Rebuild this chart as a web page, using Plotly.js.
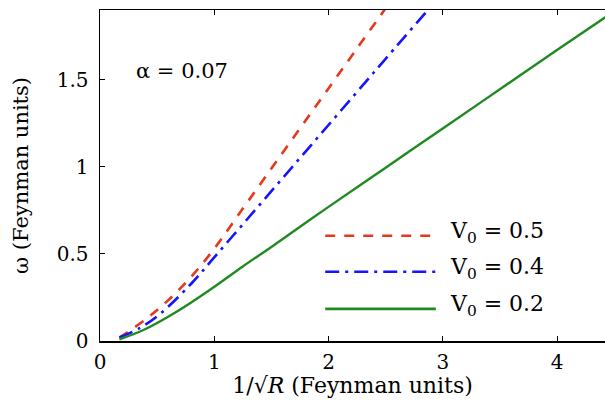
<!DOCTYPE html>
<html>
<head>
<meta charset="utf-8">
<script src="https://cdn.plot.ly/plotly-3.0.1.min.js"></script>
<style>html,body{margin:0;padding:0;background:#fff;}#chart{width:605px;height:401px;}</style>
</head>
<body>
<div id="chart"></div>
<script>
// Data
const xRed   = [0.17, 0.4, 0.6, 0.8, 1.0, 1.25, 1.5, 1.75, 2.0, 2.25, 2.5];
const yRed   = [0.02, 0.125, 0.236, 0.37, 0.53, 0.76, 0.99, 1.22, 1.45, 1.68, 1.91];
const xBlue  = [0.17, 0.35, 0.525, 0.8, 1.0, 1.25, 1.5, 1.75, 2.0, 2.25, 2.5, 2.87];
const yBlue  = [0.02, 0.075, 0.155, 0.33, 0.48, 0.67, 0.86, 1.05, 1.24, 1.43, 1.62, 1.90];
const xGreen = [0.17, 0.38, 0.67, 0.96, 1.25, 1.5, 2.0, 2.5, 3.0, 3.5, 4.0, 4.45];
const yGreen = [0.01, 0.063, 0.168, 0.293, 0.428, 0.54, 0.77, 0.995, 1.22, 1.445, 1.67, 1.87];
const seriesNames = ["V<sub>0</sub> = 0.5", "V<sub>0</sub> = 0.4", "V<sub>0</sub> = 0.2"];
const xTicks = [0, 1, 2, 3, 4];
const yTicks = [0, 0.5, 1, 1.5];
const yTickText = ["0", "0.5", "1", "1.5"];

const colors = ["#e5381c", "#1414ff", "#1f8a1f"];
const dashes = ["10px,9px", "14px,6px,3px,6px", "solid"];
const font = "DejaVu Serif";

const traces = [
  {x: xRed, y: yRed, name: seriesNames[0], mode: "lines", line: {color: colors[0], width: 2.6, dash: dashes[0], shape: "spline"}, showlegend: false},
  {x: xBlue, y: yBlue, name: seriesNames[1], mode: "lines", line: {color: colors[1], width: 2.6, dash: dashes[1], shape: "spline"}, showlegend: false},
  {x: xGreen, y: yGreen, name: seriesNames[2], mode: "lines", line: {color: colors[2], width: 2.4, dash: dashes[2], shape: "spline"}, showlegend: false}
];

// custom legend (long sample lines as in the reference)
const legY = [0.318, 0.209, 0.097];
const shapes = [];
const annotations = [
  {xref: "paper", yref: "paper", x: 0.068, y: 0.815, xanchor: "left", yanchor: "middle",
   text: "α = 0.07", showarrow: false, font: {family: font, size: 21, color: "#000"}}
];
for (let i = 0; i < 3; i++) {
  shapes.push({type: "line", xref: "paper", yref: "paper", x0: 0.446, x1: 0.665, y0: legY[i], y1: legY[i],
    line: {color: colors[i], width: 2.6, dash: dashes[i]}});
  annotations.push({xref: "paper", yref: "paper", x: 0.69, y: legY[i] + 0.01, xanchor: "left", yanchor: "middle",
    text: seriesNames[i], showarrow: false, font: {family: font, size: 22, color: "#000"}});
}

const layout = {
  width: 605, height: 401,
  margin: {l: 100, r: 0, t: 10, b: 60},
  paper_bgcolor: "#fff", plot_bgcolor: "#fff",
  font: {family: font, color: "#000", size: 20},
  xaxis: {
    range: [0, 4.42], tickvals: xTicks, ticks: "inside", ticklen: 5, tickcolor: "#000",
    showline: true, linecolor: "#000", linewidth: 1.5, mirror: "ticks", showgrid: false, zeroline: false,
    tickfont: {family: font, size: 20, color: "#000"}, ticklabelstandoff: 2,
    title: {text: "1/√<i>R</i> (Feynman units)", font: {family: font, size: 22, color: "#000"}, standoff: 2}
  },
  yaxis: {
    range: [0, 1.9], tickvals: yTicks, ticktext: yTickText, ticks: "inside", ticklen: 5, tickcolor: "#000",
    showline: true, linecolor: "#000", linewidth: 1.5, mirror: false, showgrid: false, zeroline: false,
    tickfont: {family: font, size: 20, color: "#000"}, ticklabelstandoff: 6, automargin: true,
    title: {text: "ω (Feynman units)", font: {family: font, size: 21, color: "#000"}, standoff: 22}
  },
  shapes: shapes,
  annotations: annotations,
  showlegend: false
};

Plotly.newPlot("chart", traces, layout, {displayModeBar: false, staticPlot: true});
</script>
</body>
</html>
